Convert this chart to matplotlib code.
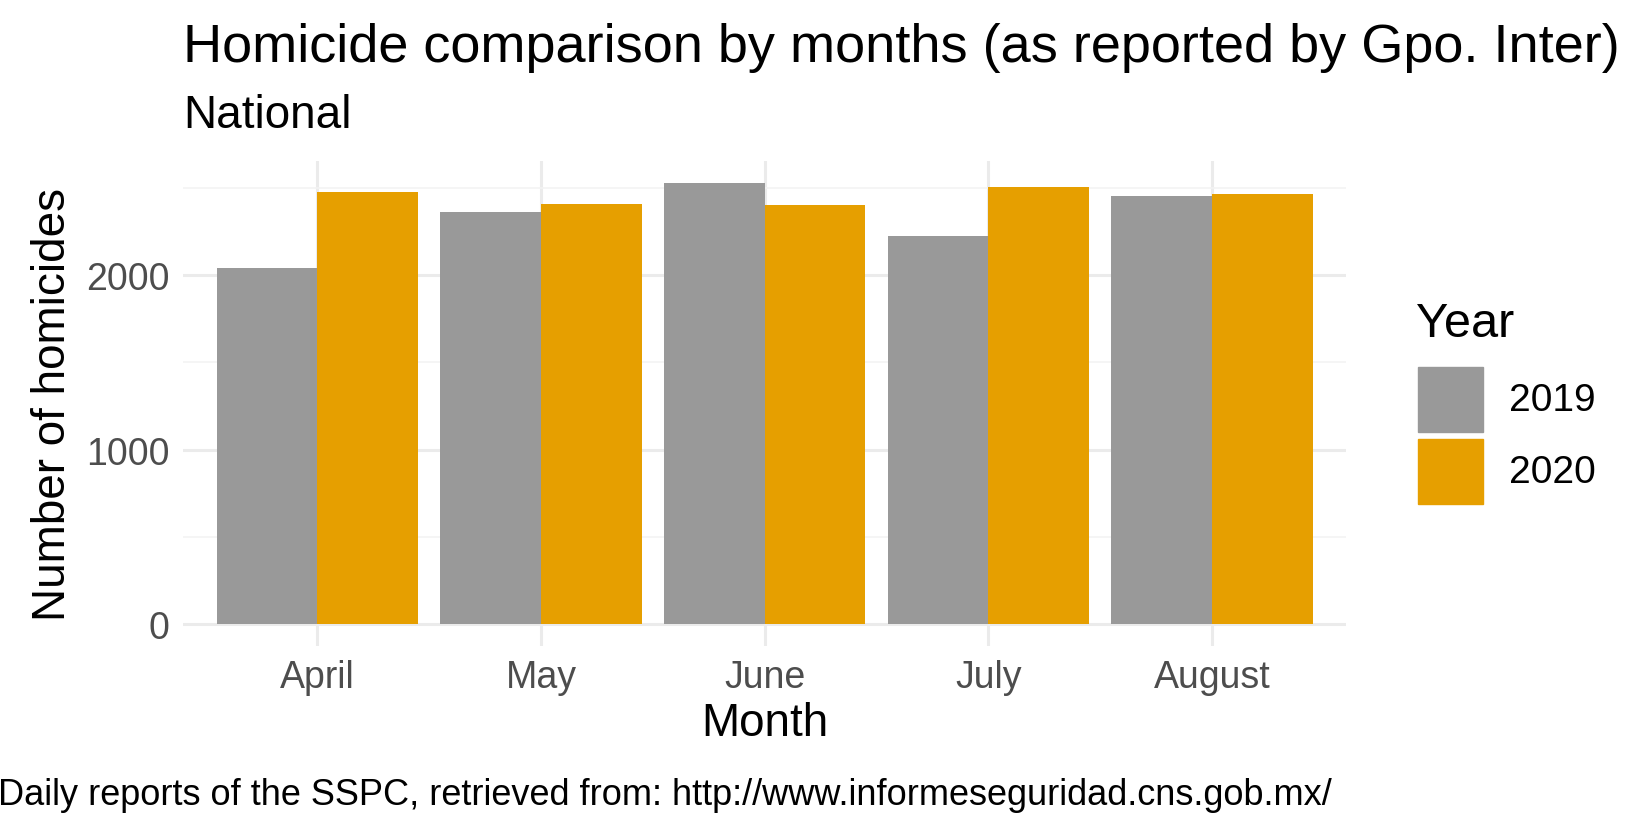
import numpy as np
import matplotlib
matplotlib.use("Agg")
import matplotlib.pyplot as plt
from matplotlib.patches import Rectangle

months = ["April", "May", "June", "July", "August"]
years = ["2019", "2020"]
homicides_2019 = [2040, 2367, 2530, 2229, 2458]
homicides_2020 = [2482, 2410, 2404, 2506, 2470]
colors = {"2019": "#999999", "2020": "#E69F00"}

plt.rcParams["font.family"] = ["Liberation Sans", "DejaVu Sans"]

W, H = 1568.0, 800.0
fig = plt.figure(figsize=(16.4, 8.37), dpi=100)
fig.patch.set_facecolor("white")
ax = fig.add_axes([175 / W, 1 - 618 / H, (1287 - 175) / W, (618 - 155) / H])

x = np.arange(len(months))
width = 0.45
ax.bar(x - width / 2, homicides_2019, width, color=colors["2019"], zorder=2)
ax.bar(x + width / 2, homicides_2020, width, color=colors["2020"], zorder=2)

ax.set_xlim(-0.6, len(months) - 0.4)
ax.set_ylim(-126.5, 2656.5)
ax.set_xticks(x)
ax.set_xticklabels(months)
ax.set_yticks([0, 1000, 2000])
ax.set_yticks([500, 1500, 2500], minor=True)
ax.grid(True, which="major", color="#EBEBEB", linewidth=2.2, zorder=0)
ax.grid(True, which="minor", axis="y", color="#F3F3F3", linewidth=1.2, zorder=0)
ax.tick_params(which="both", length=0, labelsize=27, labelcolor="#4D4D4D", pad=10)
for s in ax.spines.values():
    s.set_visible(False)
ax.set_xlabel("Month", fontsize=33, labelpad=4)
ax.set_ylabel("Number of homicides", fontsize=33, labelpad=8)

fig.text(175 / W, 1 - 46 / H, "Homicide comparison by months (as reported by Gpo. Inter)",
         fontsize=39, va="center", ha="left")
fig.text(175 / W, 1 - 111 / H, "National", fontsize=33, va="center", ha="left")
fig.text(-2 / W, 1 - 760 / H, "Daily reports of the SSPC, retrieved from: http://www.informeseguridad.cns.gob.mx/",
         fontsize=26, va="center", ha="left")

# legend
fig.text(1354 / W, 1 - 310 / H, "Year", fontsize=35, va="center", ha="left")
for i, yr in enumerate(years):
    top = 352 + i * 69
    fig.patches.append(Rectangle((1356 / W, 1 - (top + 62) / H), 62 / W, 62 / H,
                                 transform=fig.transFigure, color=colors[yr]))
    fig.text(1443 / W, 1 - (top + 31) / H, yr, fontsize=28, va="center", ha="left")

fig.savefig("out.png", dpi=100)
